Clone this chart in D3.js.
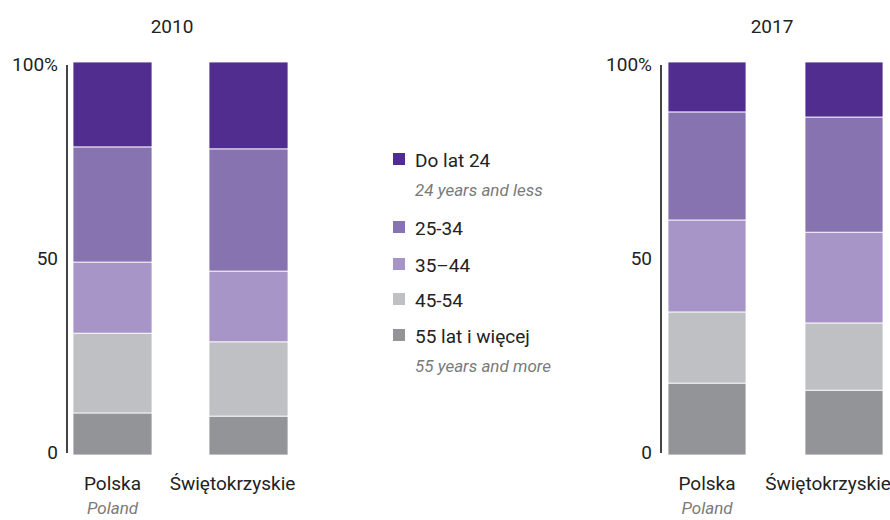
<!DOCTYPE html>
<html>
<head>
<meta charset="utf-8">
<script src="https://cdn.jsdelivr.net/npm/d3@7"></script>
<style>
  body { margin: 0; background: #fff; }
  svg text { font-family: Roboto, "DejaVu Sans", sans-serif; }
</style>
</head>
<body>
<svg id="chart" width="890" height="520"></svg>
<script>
const years = ["2010", "2017"];
const regions = ["Polska", "Świętokrzyskie"];
const regionsEn = ["Poland", ""];
const ageGroups = ["55+", "45-54", "35-44", "25-34", "do24"];
const ageLabels = ["55 lat i więcej", "45-54", "35–44", "25-34", "Do lat 24"];
const ageLabelsEn = ["55 years and more", "", "", "", "24 years and less"];
const colors = ["#939498", "#bfc0c4", "#a895c7", "#8673b0", "#512d8f"];

// shares in %, bottom to top: 55+, 45-54, 35-44, 25-34, do 24
const values2010 = {
  "Polska": [10.7, 20.3, 18.1, 29.3, 21.6],
  "Świętokrzyskie": [9.9, 18.9, 18.0, 31.1, 22.1]
};
const values2017 = {
  "Polska": [18.3, 18.1, 23.4, 27.5, 12.7],
  "Świętokrzyskie": [16.5, 17.1, 23.1, 29.3, 14.0]
};
const yTicks = [0, 50, 100];

const svg = d3.select("#chart");

const panels = [
  { year: years[0], values: values2010, left: 67, barStart: 73, gap: 57, barW: 79, titleX: 172 },
  { year: years[1], values: values2017, left: 661, barStart: 668, gap: 59, barW: 78, titleX: 772 }
];
const labelShift = [0, -16];

const plotTop = 62, plotBottom = 455;

const y = d3.scaleLinear().domain([0, 100]).range([plotBottom, plotTop]);

panels.forEach(p => {
  const g = svg.append("g");
  const rows = regions.map(r => {
    const o = { region: r };
    ageGroups.forEach((k, i) => o[k] = p.values[r][i]);
    return o;
  });
  const series = d3.stack().keys(ageGroups)(rows);

  const x = d3.scaleBand()
    .domain(regions)
    .range([p.barStart, p.barStart + p.barW * 2 + p.gap])
    .paddingInner(p.gap / (p.barW + p.gap));

  g.selectAll(".layer")
    .data(series)
    .join("g")
    .attr("fill", (d, i) => colors[i])
    .selectAll("rect")
    .data(d => d)
    .join("rect")
    .attr("x", d => x(d.data.region))
    .attr("width", x.bandwidth())
    .attr("y", d => y(d[1]))
    .attr("height", d => y(d[0]) - y(d[1]))
    .attr("stroke", "#fff")
    .attr("stroke-width", 0.8);

  // y axis
  const axis = g.append("g")
    .attr("transform", `translate(${p.left},0)`)
    .call(d3.axisLeft(y).tickValues(yTicks).tickSize(0).tickPadding(9)
      .tickFormat(d => d === 100 ? "100%" : d));
  axis.attr("font-family", null).attr("font-size", null);
  axis.select(".domain").attr("stroke", "#444").attr("stroke-width", 2)
    .attr("d", `M0,${plotTop + 3}V${plotBottom - 2}`);
  axis.selectAll("text")
    .attr("font-size", 19)
    .attr("fill", "#222");
  axis.selectAll(".tick").filter(d => d === 100).select("text").attr("dy", "0.45em");
  axis.selectAll(".tick").filter(d => d === 0).select("text").attr("dy", "0.2em");

  // year title
  g.append("text")
    .attr("x", p.titleX)
    .attr("y", 33)
    .attr("text-anchor", "middle")
    .attr("font-size", 19)
    .attr("fill", "#222")
    .text(p.year);

  // category labels
  regions.forEach((r, i) => {
    const cx = x(r) + x.bandwidth() / 2 + labelShift[i];
    g.append("text")
      .attr("x", cx).attr("y", 490)
      .attr("text-anchor", "middle")
      .attr("font-size", 19).attr("fill", "#222")
      .text(r);
    if (regionsEn[i]) {
      g.append("text")
        .attr("x", cx).attr("y", 514)
        .attr("text-anchor", "middle")
        .attr("font-size", 17).attr("font-style", "italic").attr("fill", "#7a7a7a")
        .text(regionsEn[i]);
    }
  });
});

// legend, top to bottom
const legendY = [160, 228, 265, 300, 336];
const legend = svg.append("g").attr("transform", "translate(393,0)");
d3.range(ageGroups.length).reverse().forEach((i, j) => {
  const ly = legendY[j];
  legend.append("rect")
    .attr("x", 0).attr("y", ly - 7)
    .attr("width", 12).attr("height", 12)
    .attr("fill", colors[i]);
  legend.append("text")
    .attr("x", 22).attr("y", ly + 7)
    .attr("font-size", 19).attr("fill", "#222")
    .text(ageLabels[i]);
  if (ageLabelsEn[i]) {
    legend.append("text")
      .attr("x", 22).attr("y", ly + 36)
      .attr("font-size", 17).attr("font-style", "italic").attr("fill", "#7a7a7a")
      .text(ageLabelsEn[i]);
  }
});
</script>
</body>
</html>
